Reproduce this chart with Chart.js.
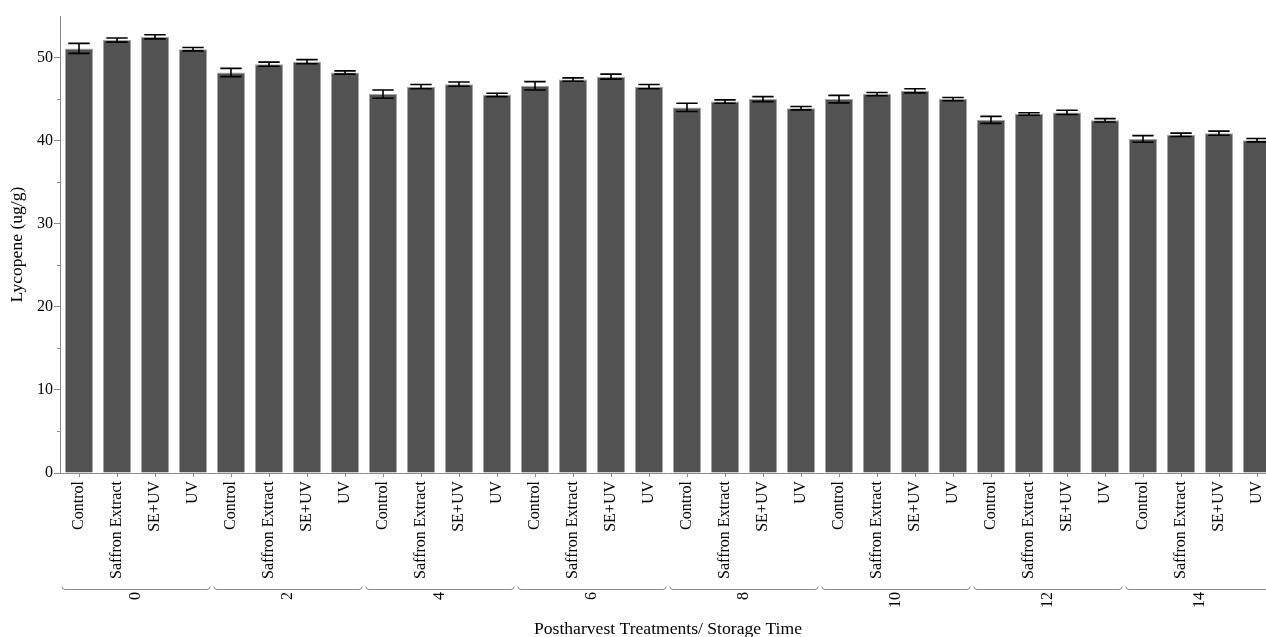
<!DOCTYPE html>
<html>
<head>
<meta charset="utf-8">
<script src="https://cdn.jsdelivr.net/npm/chart.js@4"></script>
<style>
  html, body { margin: 0; padding: 0; background: #fff; overflow: hidden; }
  #wrap { width: 1290px; height: 637px; }
</style>
</head>
<body>
<div id="wrap"><canvas id="chart" width="1290" height="637"></canvas></div>
<script>
const days = ['0', '2', '4', '6', '8', '10', '12', '14'];
const treatments = ['Control', 'Saffron Extract', 'SE+UV', 'UV'];

// lycopene means per treatment, one value per storage day
const control = [51.1, 48.2, 45.6, 46.6, 44.0, 45.0, 42.5, 40.2];
const saffron = [52.1, 49.2, 46.5, 47.35, 44.7, 45.6, 43.2, 40.7];
const seUv = [52.5, 49.5, 46.8, 47.7, 45.0, 46.0, 43.4, 40.9];
const uv = [51.0, 48.2, 45.5, 46.5, 43.9, 45.0, 42.45, 40.05];

// standard errors
const controlErr = [0.6, 0.5, 0.5, 0.5, 0.5, 0.45, 0.42, 0.4];
const saffronErr = [0.25, 0.25, 0.25, 0.2, 0.2, 0.2, 0.15, 0.2];
const seUvErr = [0.25, 0.25, 0.25, 0.3, 0.3, 0.25, 0.25, 0.25];
const uvErr = [0.2, 0.2, 0.2, 0.25, 0.2, 0.2, 0.2, 0.2];

const yTicks = [0, 10, 20, 30, 40, 50];

const series = [control, saffron, seUv, uv];
const seriesErr = [controlErr, saffronErr, seUvErr, uvErr];

// flatten into day-major order: day 0 -> all treatments, day 2 -> ...
const labels = [];
const values = [];
const errors = [];
days.forEach((d, i) => {
  treatments.forEach((t, j) => {
    labels.push(t);
    values.push(series[j][i]);
    errors.push(seriesErr[j][i]);
  });
});

const serif = "'Liberation Serif', 'Times New Roman', serif";

const errorBars = {
  id: 'errorBars',
  afterDatasetsDraw(chart) {
    const { ctx, scales: { y } } = chart;
    const meta = chart.getDatasetMeta(0);
    ctx.save();
    ctx.strokeStyle = '#000';
    ctx.lineWidth = 1.6;
    meta.data.forEach((bar, i) => {
      const hi = y.getPixelForValue(values[i] + errors[i]);
      const lo = y.getPixelForValue(values[i] - errors[i]);
      const half = bar.width * 0.38;
      ctx.beginPath();
      ctx.moveTo(bar.x, hi); ctx.lineTo(bar.x, lo);
      ctx.moveTo(bar.x - half, hi); ctx.lineTo(bar.x + half, hi);
      ctx.moveTo(bar.x - half, lo); ctx.lineTo(bar.x + half, lo);
      ctx.stroke();
    });
    ctx.restore();
  }
};

// minor y ticks + day brackets under the treatment labels
const extras = {
  id: 'extras',
  afterDraw(chart) {
    const { ctx, scales: { x, y } } = chart;
    ctx.save();
    ctx.strokeStyle = '#8a8a8a';
    ctx.lineWidth = 1;
    ctx.beginPath();
    for (let v = 5; v < 55; v += 10) {
      const py = Math.round(y.getPixelForValue(v)) + 0.5;
      ctx.moveTo(x.left - 3, py); ctx.lineTo(x.left, py);
    }
    ctx.stroke();

    const step = x.getPixelForValue(1) - x.getPixelForValue(0);
    const by = 589.5;
    days.forEach((d, i) => {
      const first = x.getPixelForValue(i * 4);
      const last = x.getPixelForValue(i * 4 + 3);
      const l = first - step / 2 + 2;
      const r = last + step / 2 - 2;
      ctx.strokeStyle = '#8a8a8a';
      ctx.beginPath();
      ctx.moveTo(l, by - 3);
      ctx.quadraticCurveTo(l, by, l + 3, by);
      ctx.lineTo(r - 3, by);
      ctx.quadraticCurveTo(r, by, r, by - 3);
      ctx.stroke();

      const cx = (first + last) / 2;
      ctx.save();
      ctx.translate(cx, 592);
      ctx.rotate(-Math.PI / 2);
      ctx.fillStyle = '#000';
      ctx.font = '16px ' + serif;
      ctx.textAlign = 'right';
      ctx.textBaseline = 'middle';
      ctx.fillText(d, 0, 0);
      ctx.restore();
    });
    ctx.restore();
  }
};

new Chart(document.getElementById('chart'), {
  type: 'bar',
  data: {
    labels: labels,
    datasets: [{
      data: values,
      backgroundColor: '#525252',
      borderColor: '#a6a6a6',
      borderWidth: 1,
      barPercentage: 0.74,
      categoryPercentage: 1.0
    }]
  },
  options: {
    responsive: false,
    animation: false,
    layout: { padding: { top: 16, right: 14, left: 0, bottom: 0 } },
    plugins: {
      legend: { display: false },
      tooltip: { enabled: false }
    },
    scales: {
      x: {
        offset: true,
        grid: {
          offset: false,
          drawOnChartArea: false,
          tickLength: 4,
          color: '#8a8a8a'
        },
        border: { color: '#8a8a8a' },
        ticks: {
          autoSkip: false,
          minRotation: 90,
          maxRotation: 90,
          padding: 4,
          color: '#000',
          font: { family: serif, size: 16 }
        },
        title: {
          display: true,
          text: 'Postharvest Treatments/ Storage Time',
          color: '#000',
          font: { family: serif, size: 17.6 },
          padding: { top: 0, bottom: -3 }
        },
        afterFit(scale) { scale.height = 164; }
      },
      y: {
        min: 0,
        max: 55,
        grid: {
          drawOnChartArea: false,
          tickLength: 6,
          tickColor: (c) => yTicks.includes(c.tick.value) ? '#8a8a8a' : 'rgba(0,0,0,0)'
        },
        border: { color: '#8a8a8a' },
        ticks: {
          stepSize: 5,
          padding: 1,
          color: '#000',
          font: { family: serif, size: 16 },
          callback: (v) => yTicks.includes(v) ? String(v) : ''
        },
        title: {
          display: true,
          text: 'Lycopene (ug/g)',
          color: '#000',
          font: { family: serif, size: 17.6 },
          padding: { top: 7, bottom: 0 }
        },
        afterFit(scale) { scale.width = 60; }
      }
    }
  },
  plugins: [errorBars, extras]
});
</script>
</body>
</html>
